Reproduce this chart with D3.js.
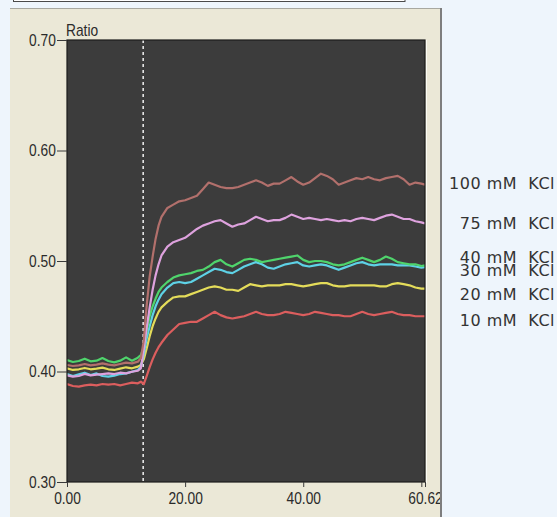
<!DOCTYPE html>
<html><head><meta charset="utf-8">
<script src="https://cdn.jsdelivr.net/npm/d3@7"></script>
<style>html,body{margin:0;padding:0;background:#eef5fc;overflow:hidden}svg{display:block}</style>
</head><body><svg id="chart" width="557" height="517"></svg>
<script>
// ---- data ----
const times = [0,1,2,3,4,5,6,7,8,9,10,11,12,12.5,13,13.5,14,14.5,15,15.5,
  16,17,18,19,20,21,22,23,24,25,26,27,28,29,30,31,32,33,34,35,36,37,38,39,40,
  41,42,43,44,45,46,47,48,49,50,51,52,53,54,55,56,57,58,59,60,60.62];

const kcl100 = [0.4059,0.4050,0.4056,0.4068,0.4056,0.4062,0.4074,0.4062,0.4056,0.4068,0.4080,0.4074,0.4089,
  0.4119,0.428,0.460,0.486,0.504,0.520,0.532,
  0.540,0.548,0.551,0.554,0.555,0.557,0.559,0.565,0.571,0.569,0.567,0.566,0.566,0.567,0.569,0.571,0.573,0.571,0.568,0.570,
  0.570,0.573,0.576,0.572,0.569,0.571,0.575,0.579,0.577,0.574,0.569,0.571,0.573,0.575,0.574,0.576,0.574,0.573,0.575,0.576,
  0.577,0.574,0.569,0.571,0.570,0.569];
const kcl75 = [0.3965,0.3953,0.3959,0.3977,0.3965,0.3971,0.3977,0.3983,0.3977,0.3989,0.3983,0.3998,0.4007,
  0.4029,0.420,0.440,0.458,0.474,0.487,0.497,
  0.505,0.513,0.517,0.519,0.521,0.525,0.529,0.532,0.534,0.536,0.537,0.534,0.531,0.533,0.534,0.537,0.540,0.538,0.536,0.537,
  0.537,0.539,0.542,0.540,0.538,0.539,0.538,0.537,0.538,0.537,0.536,0.537,0.536,0.538,0.539,0.538,0.537,0.539,0.541,0.542,
  0.540,0.538,0.538,0.536,0.535,0.534];
const kcl40 = [0.4104,0.4086,0.4095,0.4116,0.4092,0.4098,0.4122,0.4095,0.4083,0.4098,0.4128,0.4098,0.4125,
  0.4149,0.422,0.437,0.450,0.459,0.466,0.472,
  0.476,0.481,0.485,0.487,0.488,0.489,0.491,0.492,0.495,0.499,0.501,0.497,0.495,0.498,0.501,0.502,0.501,0.499,0.500,0.501,
  0.502,0.503,0.504,0.505,0.501,0.499,0.500,0.500,0.499,0.497,0.496,0.497,0.499,0.501,0.503,0.501,0.499,0.501,0.504,0.502,
  0.499,0.498,0.497,0.497,0.4955,0.496];
const kcl30 = [0.3977,0.3959,0.3974,0.3989,0.3968,0.3983,0.3959,0.3953,0.3962,0.3977,0.3983,0.3998,0.4014,
  0.4044,0.416,0.430,0.441,0.451,0.459,0.465,
  0.470,0.476,0.480,0.481,0.480,0.481,0.484,0.487,0.490,0.493,0.492,0.490,0.489,0.492,0.495,0.497,0.499,0.497,0.494,0.493,
  0.495,0.497,0.498,0.499,0.496,0.495,0.496,0.497,0.496,0.494,0.492,0.494,0.496,0.498,0.499,0.497,0.496,0.497,0.497,0.497,
  0.496,0.496,0.496,0.495,0.494,0.4945];
const kcl20 = [0.4029,0.4014,0.4020,0.4032,0.4020,0.4026,0.4035,0.4020,0.4014,0.4026,0.4038,0.4029,0.4044,
  0.4059,0.411,0.421,0.432,0.441,0.448,0.454,
  0.458,0.463,0.467,0.468,0.468,0.470,0.472,0.474,0.476,0.477,0.476,0.474,0.474,0.473,0.476,0.479,0.478,0.477,0.478,0.478,
  0.478,0.479,0.479,0.478,0.477,0.478,0.479,0.480,0.480,0.478,0.477,0.477,0.478,0.478,0.478,0.478,0.478,0.477,0.477,0.479,
  0.480,0.479,0.478,0.476,0.475,0.475];
const kcl10 = [0.3887,0.3869,0.3863,0.3875,0.3881,0.3875,0.3887,0.3881,0.3887,0.3875,0.3887,0.3899,0.3893,
  0.3908,0.3885,0.396,0.404,0.411,0.417,0.422,
  0.426,0.433,0.438,0.443,0.444,0.445,0.445,0.448,0.451,0.454,0.451,0.449,0.448,0.449,0.450,0.452,0.454,0.452,0.451,0.451,
  0.452,0.454,0.453,0.452,0.451,0.452,0.454,0.453,0.452,0.451,0.451,0.450,0.450,0.452,0.454,0.452,0.451,0.452,0.453,0.454,
  0.452,0.451,0.451,0.450,0.450,0.450];

const seriesLabels = ["10 mM  KCl","20 mM  KCl","30 mM  KCl","40 mM  KCl","75 mM  KCl","100 mM  KCl"];
const seriesValues = [kcl10, kcl20, kcl30, kcl40, kcl75, kcl100];
const seriesColors = ["#dc5e5e","#e4dc5a","#5ed2e6","#4fd46c","#dea2de","#b2706c"];
const labelValues = [0.4466, 0.4701, 0.4912, 0.5036, 0.5344, 0.5706];

const yTicks = [0.30, 0.40, 0.50, 0.60, 0.70];
const xTicks = [0, 20, 40, 60, 60.62];
const xTickLabels = {0:"0.00", 20:"20.00", 40:"40.00", 60:"", 60.62:"60.62"};
const yAxisTitle = "Ratio";
const stimulusTime = 12.9;

// ---- layout ----
const svg = d3.select("#chart");
const plot = {left: 67, top: 40, right: 425, bottom: 482};
const x = d3.scaleLinear().domain([0, 60.62]).range([plot.left, plot.right]);
const y = d3.scaleLinear().domain([0.30, 0.70]).range([plot.bottom, plot.top]);
const axisFont = "'Liberation Sans', Arial, sans-serif";
const sx = 0.86;

// top box remnant
svg.append("rect").attr("x", 13.5).attr("y", -6).attr("width", 391.5).attr("height", 7.5)
  .attr("fill", "#ffffff").attr("stroke", "#4a4a4a").attr("stroke-width", 1);

// panel
svg.append("defs").append("clipPath").attr("id", "panelClip")
  .append("rect").attr("x", 10).attr("y", 8).attr("width", 430).attr("height", 520);
svg.select("defs").append("clipPath").attr("id", "plotClip")
  .append("rect").attr("x", plot.left).attr("y", plot.top)
  .attr("width", plot.right - plot.left).attr("height", plot.bottom - plot.top);

svg.append("rect").attr("x", 10).attr("y", 8).attr("width", 431).attr("height", 520)
  .attr("fill", "#ebe8d7");
svg.append("line").attr("x1", 10).attr("x2", 441).attr("y1", 8.5).attr("y2", 8.5)
  .attr("stroke", "#a8a8a0").attr("stroke-width", 1);
svg.append("line").attr("x1", 441).attr("x2", 441).attr("y1", 8).attr("y2", 517)
  .attr("stroke", "#7e7e7e").attr("stroke-width", 2);

const panel = svg.append("g").attr("clip-path", "url(#panelClip)");

// plot background
panel.append("rect").attr("x", plot.left).attr("y", plot.top)
  .attr("width", plot.right - plot.left).attr("height", plot.bottom - plot.top)
  .attr("fill", "#3c3c3c");
panel.append("line").attr("x1", plot.right + 1.5).attr("x2", plot.right + 1.5)
  .attr("y1", plot.top).attr("y2", plot.bottom + 1).attr("stroke", "#fbfbf4").attr("stroke-width", 1);

// stimulus dashed line
panel.append("line").attr("x1", x(stimulusTime)).attr("x2", x(stimulusTime))
  .attr("y1", plot.top).attr("y2", plot.bottom)
  .attr("stroke", "#e6e6e6").attr("stroke-width", 1.6).attr("stroke-dasharray", "3,3");

// lines
const lineGen = d3.line().x((d, i) => x(times[i])).y(d => y(d));
const lines = panel.append("g").attr("clip-path", "url(#plotClip)");
seriesValues.forEach((vals, k) => {
  lines.append("path").attr("d", lineGen(vals)).attr("fill", "none")
    .attr("stroke", seriesColors[k]).attr("stroke-width", 2.2)
    .attr("stroke-linejoin", "round");
});

// plot frame
panel.append("rect").attr("x", plot.left).attr("y", plot.top)
  .attr("width", plot.right - plot.left).attr("height", plot.bottom - plot.top)
  .attr("fill", "none").attr("stroke", "#1c1c1c").attr("stroke-width", 1.2);

// y axis
const yAxis = panel.append("g").attr("transform", `translate(${plot.left},0)`)
  .call(d3.axisLeft(y).tickValues(yTicks).tickSize(10).tickPadding(3).tickFormat(d3.format(".2f")));
yAxis.select(".domain").remove();
yAxis.selectAll("line").attr("stroke", "#3a3a3a");
yAxis.selectAll("text").attr("fill", "#2a2a2a").attr("font-family", axisFont).attr("font-size", 16)
  .attr("transform", `scale(${sx},1)`);

// x axis
const xAxis = panel.append("g").attr("transform", `translate(0,${plot.bottom})`)
  .call(d3.axisBottom(x).tickValues(xTicks).tickSize(5).tickPadding(6).tickFormat(d => xTickLabels[d]));
xAxis.select(".domain").remove();
xAxis.selectAll("line").attr("stroke", "#3a3a3a");
xAxis.selectAll("text").attr("fill", "#2a2a2a").attr("font-family", axisFont).attr("font-size", 16)
  .attr("transform", `scale(${sx},1)`);

// y axis title
panel.append("text").attr("transform", `translate(${plot.left - 1},36) scale(${sx},1)`)
  .attr("font-family", axisFont).attr("font-size", 16).attr("fill", "#2a2a2a").text(yAxisTitle);

// series labels
svg.append("g").selectAll("text").data(seriesLabels).join("text")
  .attr("x", 555).attr("y", (d, i) => y(labelValues[i]))
  .attr("dy", "0.36em")
  .attr("text-anchor", "end")
  .attr("font-family", "'DejaVu Sans', sans-serif").attr("font-size", 16)
  .attr("letter-spacing", 0.5)
  .attr("fill", "#333")
  .style("white-space", "pre")
  .text(d => d);
</script></body></html>
